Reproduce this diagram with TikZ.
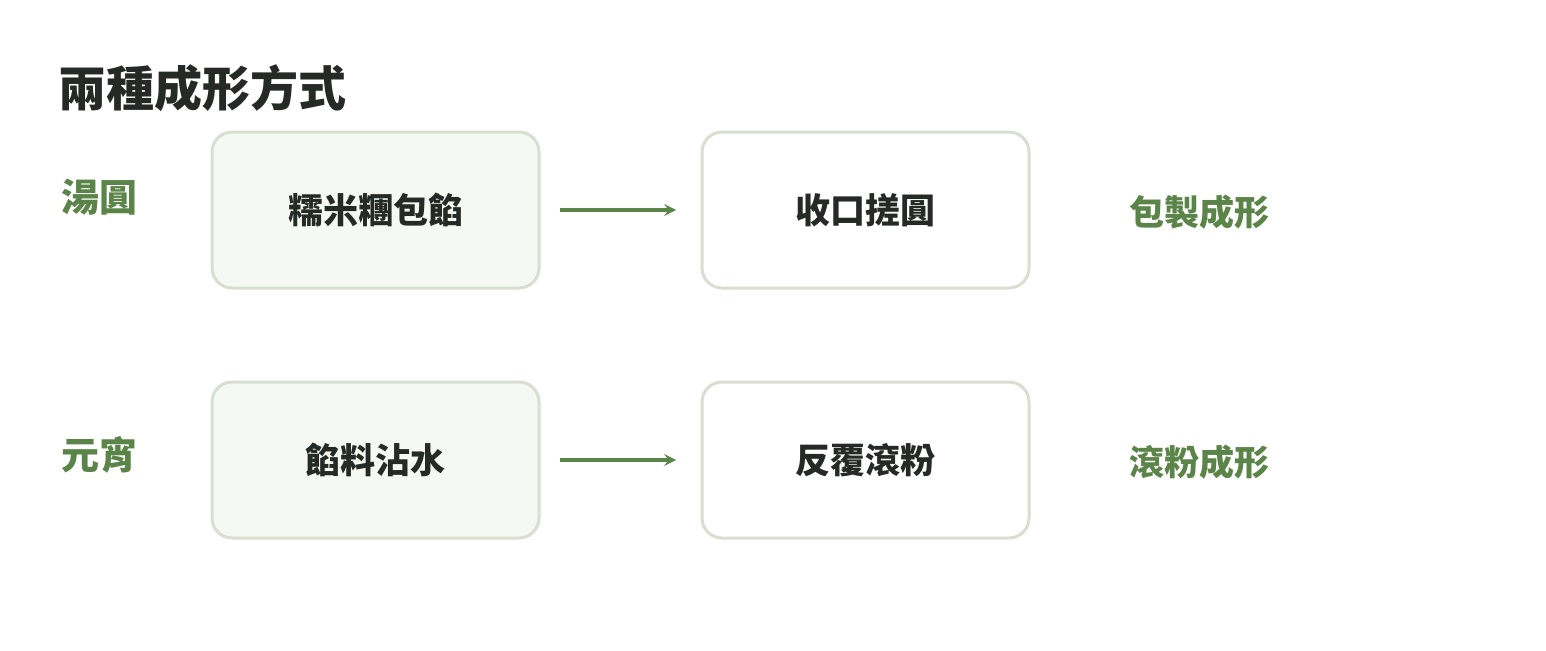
\documentclass[tikz,border=0pt]{standalone}
\usepackage{fontspec}
\newfontfamily\cjk{Noto Sans CJK TC}
\usetikzlibrary{positioning}
\definecolor{leaf}{HTML}{5A8448}
\definecolor{edge}{HTML}{D6DFD0}
\definecolor{pale}{HTML}{F6F8F3}
\definecolor{ink}{HTML}{262A26}
\begin{document}
\begin{tikzpicture}[x=1pt,y=-1pt,>=stealth,
  stage/.style={draw=edge, line width=3pt, rounded corners=20pt, minimum width=327pt, minimum height=156pt, text=ink, font=\cjk\bfseries\fontsize{35}{40}\selectfont},
  first/.style={stage, fill=pale},
  kind/.style={text=leaf, font=\cjk\bfseries\fontsize{38}{44}\selectfont},
  way/.style={text=leaf, font=\cjk\bfseries\fontsize{35}{40}\selectfont},
  flow/.style={->, draw=leaf, line width=4pt}]
 \useasboundingbox (0,0) rectangle (1546,650);
 \node[anchor=west, text=ink, font=\cjk\bfseries\fontsize{48}{54}\selectfont] (title) at (55,88) {兩種成形方式};
 % row one
 \node[kind, anchor=west] (tang) at (58,197) {湯圓};
 \node[first] (wrap) at (375.5,210) {糯米糰包餡};
 \node[stage] (roll) at (865.5,210) {收口搓圓};
 \node[way, anchor=west] (tangway) at (1126,212) {包製成形};
 \coordinate (a1) at (560,210);
 \coordinate (b1) at (676,210);
 \draw[flow] (a1) -- (b1);
 % row two
 \node[kind, anchor=west] (xiao) at (58,455) {元宵};
 \node[first] (wet) at (375.5,460) {餡料沾水};
 \node[stage] (coat) at (865.5,460) {反覆滾粉};
 \node[way, anchor=west] (xiaoway) at (1126,462) {滾粉成形};
 \coordinate (a2) at (560,460);
 \coordinate (b2) at (676,460);
 \draw[flow] (a2) -- (b2);
\end{tikzpicture}
\end{document}
